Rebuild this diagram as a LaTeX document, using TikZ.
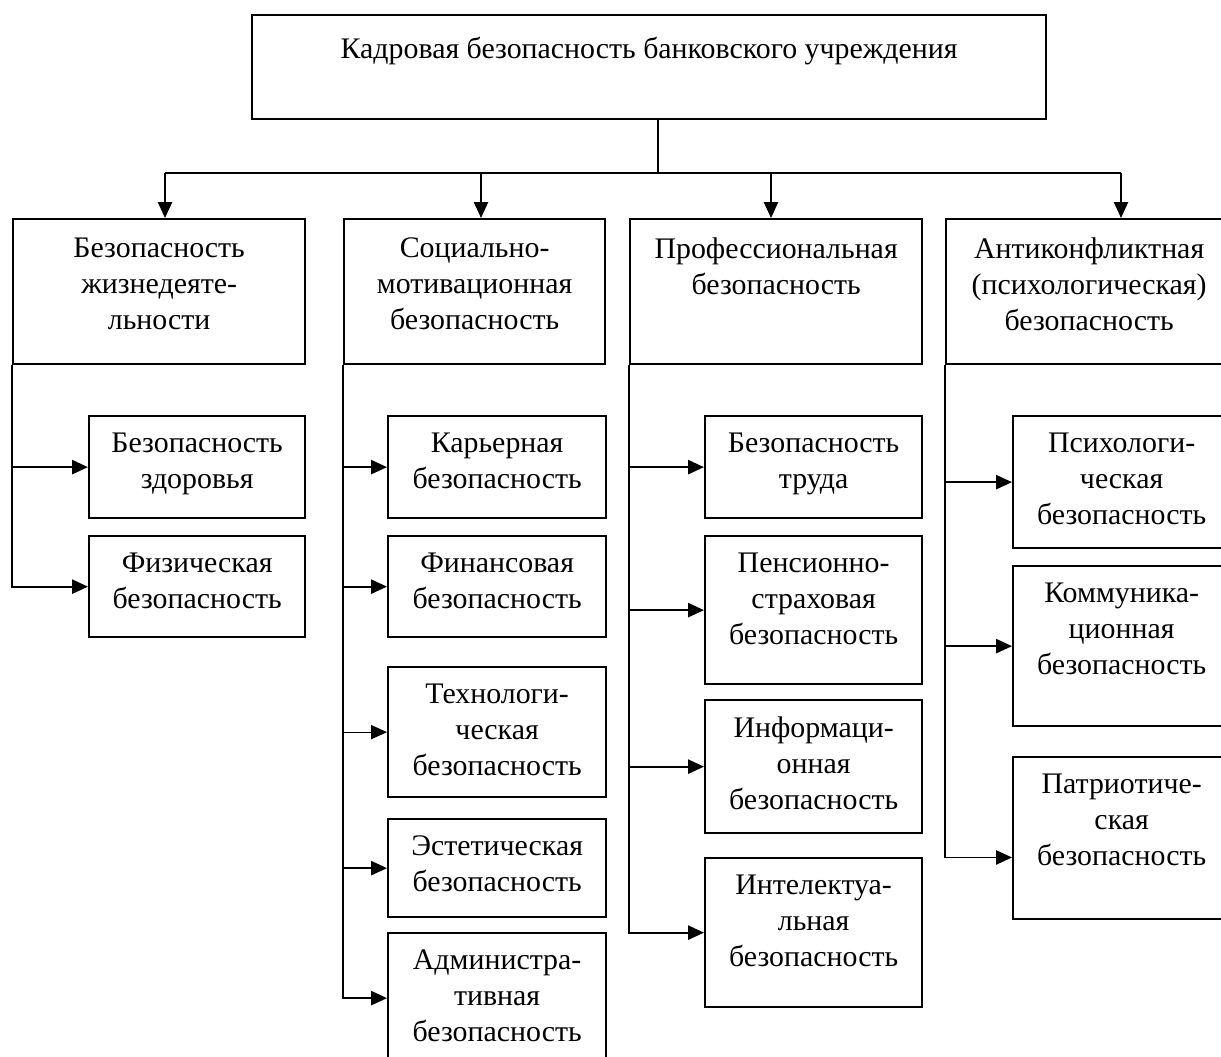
\documentclass[tikz,border=0pt]{standalone}
\usepackage{fontspec}
\setmainfont{Liberation Serif}
\usetikzlibrary{arrows.meta}

\newlength{\pxu}
\setlength{\pxu}{0.02cm}

\begin{document}
\begin{tikzpicture} [
        x=\pxu, y=-\pxu,
        font=\fontsize{17}{20.5}\selectfont,
        line width=1.1pt,
        blk/.style n args={4}{
        draw, rectangle,
        line width=1.3pt,
        anchor=north west,
        minimum width=#1\pxu,
        minimum height=#2\pxu,
        inner sep=0pt,
        label={[anchor=north, align=center, inner sep=0pt, yshift=-#3\pxu]north:{#4}}
        },
        arr/.style={-{Triangle[length=9pt,width=8pt]}}
    ]

    \useasboundingbox (0,0) rectangle (1221,1057);

    % верхний уровень
    \node[blk = {794}{104}{22}{Кадровая безопасность банковского учреждения}] (top) at (251,14) {};

    % второй уровень
    \node[blk = {292}{145}{19}{Безопасность\\жизнедеяте-\\льности}] (zhiz) at (12,218) {};
    \node[blk = {261}{145}{19}{Социально-\\мотивационная\\безопасность}] (soc) at (343,218) {};
    \node[blk = {292}{145}{19}{Профессиональная\\безопасность}] (prof) at (629,218) {};
    \node[blk = {286}{145}{19}{Антиконфликтная\\(психологическая)\\безопасность}] (anti) at (945,218) {};

    % шина
    \coordinate (bus) at (658,173);
    \coordinate (bA) at (165,173);
    \coordinate (bB) at (481,173);
    \coordinate (bC) at (771,173);
    \coordinate (bD) at (1121,173);
    \draw (bus |- top.south) -- (bus);
    \draw (bA) -- (bD);
    \draw[arr] (bA) -- (bA |- zhiz.north);
    \draw[arr] (bB) -- (bB |- soc.north);
    \draw[arr] (bC) -- (bC |- prof.north);
    \draw[arr] (bD) -- (bD |- anti.north);

    % первый столбец
    \node[blk = {216}{102}{17}{Безопасность\\здоровья}] (zdor) at (88,415) {};
    \node[blk = {216}{101}{17}{Физическая\\безопасность}] (fiz) at (88,535) {};

    \draw[arr] (zhiz.south west |- zdor.west) -- (zdor.west);
    \draw[arr] (zhiz.south west) |- (fiz.west);

    % второй столбец
    \node[blk = {218}{102}{17}{Карьерная\\безопасность}] (kar) at (387,415) {};
    \node[blk = {218}{101}{17}{Финансовая\\безопасность}] (fin) at (387,535) {};
    \node[blk = {218}{130}{17}{Технологи-\\ческая\\безопасность}] (tech) at (387,666) {};
    \node[blk = {218}{98}{17}{Эстетическая\\безопасность}] (est) at (387,818) {};
    \node[blk = {218}{130}{17}{Администра-\\тивная\\безопасность}] (adm) at (387,932) {};

    \draw[arr] (soc.south west |- kar.west) -- (kar.west);
    \draw[arr] (soc.south west |- fin.west) -- (fin.west);
    \draw[arr, line width=0.6pt] (soc.south west |- tech.west) -- (tech.west);
    \draw[arr] (soc.south west |- est.west) -- (est.west);
    \draw[arr] (soc.south west) |- (adm.west);

    % третий столбец
    \node[blk = {217}{102}{17}{Безопасность\\труда}] (trud) at (704,415) {};
    \node[blk = {217}{148}{17}{Пенсионно-\\страховая\\безопасность}] (pens) at (704,535) {};
    \node[blk = {217}{133}{17}{Информаци-\\онная\\безопасность}] (inf) at (704,699) {};
    \node[blk = {217}{149}{17}{Интелектуа-\\льная\\безопасность}] (intel) at (704,857) {};

    \draw[arr] (prof.south west |- trud.west) -- (trud.west);
    \draw[arr] (prof.south west |- pens.west) -- (pens.west);
    \draw[arr] (prof.south west |- inf.west) -- (inf.west);
    \draw[arr] (prof.south west) |- (intel.west);

    % четвертый столбец
    \node[blk = {217}{132}{17}{Психологи-\\ческая\\безопасность}] (psy) at (1012,415) {};
    \node[blk = {217}{160}{17}{Коммуника-\\ционная\\безопасность}] (kom) at (1012,565) {};
    \node[blk = {217}{162}{17}{Патриотиче-\\ская\\безопасность}] (pat) at (1012,756) {};

    \draw[arr] (anti.south west |- psy.west) -- (psy.west);
    \draw[arr] (anti.south west |- kom.west) -- (kom.west);
    \draw[arr] (anti.south west) |- ([yshift=-11pt]pat.west);

\end{tikzpicture}
\end{document}
